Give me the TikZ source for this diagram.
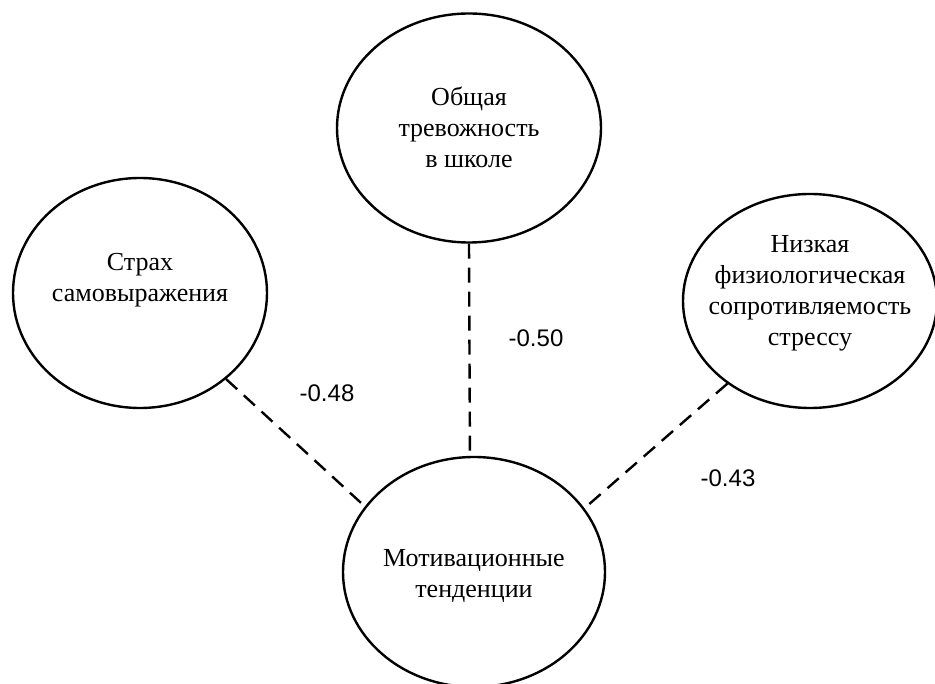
\documentclass[tikz,border=0pt]{standalone}
\usepackage{fontspec}
\setmainfont{Liberation Serif}
\newfontfamily\labfont{Liberation Sans}
\usetikzlibrary{shapes.geometric}
\begin{document}
\begin{tikzpicture}[x=1pt,y=-1pt,
  factor/.style={draw, line width=2.4pt, ellipse, inner sep=0pt},
  ftext/.style={align=center, inner sep=0pt, font=\fontsize{26}{31}\selectfont},
  link/.style={line width=2.4pt, dash pattern=on 15pt off 9pt},
  coef/.style={font=\labfont\fontsize{24}{28}\selectfont, inner sep=0pt}]
\useasboundingbox (0,0) rectangle (935,684);
\node[factor, minimum width=264pt, minimum height=229pt] (T) at (469,128) {};
\node[factor, minimum width=254pt, minimum height=230pt] (L) at (140,293) {};
\node[factor, minimum width=254pt, minimum height=214pt] (R) at (810,301) {};
\node[factor, minimum width=262pt, minimum height=230pt] (M) at (474,572) {};
\node[ftext] (Tt) at (469,127) {Общая\\тревожность\\в школе};
\node[ftext] (Lt) at (140,280) {Страх\\самовыражения};
\node[ftext] (Rt) at (810,293) {Низкая\\физиологическая\\сопротивляемость\\стрессу};
\node[ftext] (Mt) at (474,576) {Мотивационные\\тенденции};
\draw[link] (T.south) -- (M.92);
\draw[link] (L.-45) -- (M.149.6);
\draw[link] (R.-135) -- (M.30.4);
\node[coef] (c1) at (327,393) {-0.48};
\node[coef] (c2) at (536,338) {-0.50};
\node[coef] (c3) at (728,478) {-0.43};
\end{tikzpicture}
\end{document}
